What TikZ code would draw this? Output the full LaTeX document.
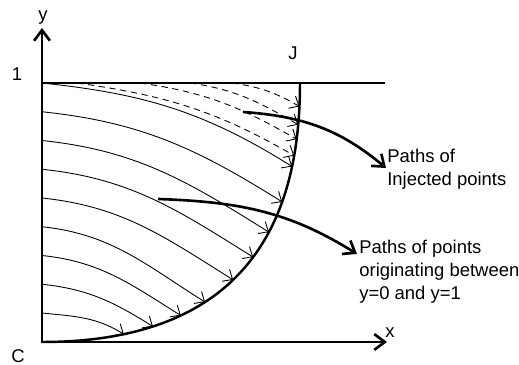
\documentclass[tikz,border=0pt]{standalone}
\usepackage{fontspec}
\setmainfont{Liberation Sans}
\usetikzlibrary{arrows.meta}

\begin{document}
\begin{tikzpicture}[
    axis/.style={line width=1.5pt, {Straight Barb[length=6pt,width=9pt]}-{Straight Barb[length=6pt,width=9pt]}},
    wall/.style={line width=1.4pt},
    lid/.style={line width=0.8pt},
    flow/.style={line width=0.5pt, -{Straight Barb[length=4.5pt,width=8pt]}},
    inject/.style={flow, dash pattern=on 3.6pt off 2.6pt},
    pointer/.style={line width=1.5pt, -{Straight Barb[length=6pt,width=9pt]}},
    lbl/.style={font=\fontsize{10.5}{13.3}\selectfont, inner sep=0pt},
    note/.style={lbl, align=left, anchor=north west}
  ]
  \useasboundingbox (-0.84,-0.46) rectangle (9.54,6.84);

  % axes and lid
  \coordinate (C)    at (0,0);
  \coordinate (ytip) at (0,6.28);
  \coordinate (xtip) at (6.9,0);
  \coordinate (lidL) at (0,5.18);
  \coordinate (lidR) at (6.86,5.18);
  \coordinate (J)    at (5.16,5.18);
  \draw[axis] (ytip) -- (C) -- (xtip);
  \draw[lid]  (lidL) -- (lidR);

  \node[lbl] (ylbl)   at (0.02,6.48)  {y};
  \node[lbl] (xlbl)   at (6.96,0.18)  {x};
  \node[lbl] (onelbl) at (-0.5,5.36)  {1};
  \node[lbl] (jlbl)   at (5.02,5.78)  {J};
  \node[lbl] (clbl)   at (-0.48,-0.28) {C};

  % boundary, with the end points of the paths on it
  \draw[wall] (C) .. controls (4.38,0) and (5.16,2.8) .. (J)
    coordinate[pos=0.14]  (e9)
    coordinate[pos=0.2]   (e8)
    coordinate[pos=0.265] (e7)
    coordinate[pos=0.33]  (e6)
    coordinate[pos=0.42]  (e5)
    coordinate[pos=0.5]   (e4)
    coordinate[pos=0.58]  (e3)
    coordinate[pos=0.67]  (e2)
    coordinate[pos=0.77]  (e1)
    coordinate[pos=0.8]   (f1)
    coordinate[pos=0.845] (f2)
    coordinate[pos=0.885] (f3)
    coordinate[pos=0.935] (f4);

  % paths starting between y=0 and y=1
  \coordinate (s2) at (0,4.605);
  \coordinate (s3) at (0,4.03);
  \coordinate (s4) at (0,3.455);
  \coordinate (s5) at (0,2.88);
  \coordinate (s6) at (0,2.305);
  \coordinate (s7) at (0,1.73);
  \coordinate (s8) at (0,1.155);
  \coordinate (s9) at (0,0.58);
  \draw[flow] (lidL) to[out=-6,in=148] (e1);
  \draw[flow] (s2) to[out=-6,in=148] (e2);
  \draw[flow] (s3) to[out=-6,in=148] (e3);
  \draw[flow] (s4) to[out=-6,in=148] (e4);
  \draw[flow] (s5) to[out=-6,in=148] (e5);
  \draw[flow] (s6) to[out=-6,in=148] (e6);
  \draw[flow] (s7) to[out=-6,in=148] (e7);
  \draw[flow] (s8) to[out=-6,in=148] (e8);
  \draw[flow] (s9) to[out=-6,in=148] (e9);

  % injected paths
  \coordinate (d1) at (0.7,5.18);
  \coordinate (d2) at (1.96,5.18);
  \coordinate (d3) at (2.96,5.18);
  \coordinate (d4) at (3.8,5.18);
  \draw[inject] (d1) to[out=-8,in=150] (f1);
  \draw[inject] (d2) to[out=-8,in=150] (f2);
  \draw[inject] (d3) to[out=-8,in=150] (f3);
  \draw[inject] (d4) to[out=-8,in=150] (f4);

  % notes
  \node[note] (injtxt)  at (6.9,3.87)  {Paths of\\Injected points};
  \node[note] (origtxt) at (6.34,2.05) {Paths of points\\originating between\\y=0 and y=1};
  \coordinate (p1)      at (4.02,4.6);
  \coordinate (injend)  at (6.88,3.48);
  \coordinate (p2)      at (2.32,2.86);
  \coordinate (origend) at (6.3,1.76);
  \draw[pointer] (p1) to[out=-4,in=140] (injend);
  \draw[pointer] (p2) to[out=-2,in=148] (origend);
\end{tikzpicture}
\end{document}
